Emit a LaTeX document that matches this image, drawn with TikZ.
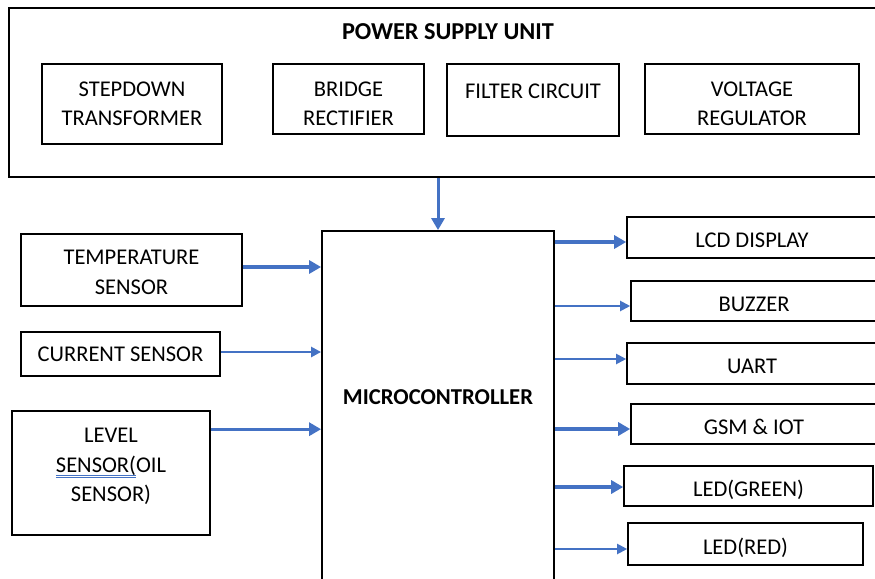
\documentclass[tikz,border=0pt]{standalone}
\usepackage{fontspec}
\setmainfont{Carlito}
\usetikzlibrary{arrows,arrows.meta}
\definecolor{linkblue}{HTML}{4472C4}
\newlength\gramwd
\newcommand\gramline[1]{\settowidth\gramwd{#1}%
  \rlap{\textcolor{linkblue}{\rule[-3pt]{\gramwd}{0.7pt}}}%
  \rlap{\textcolor{linkblue}{\rule[-5pt]{\gramwd}{0.7pt}}}#1}

\begin{document}
\begin{tikzpicture}[x=1pt,y=-1pt,
unit/.style={draw, line width=1.6pt, inner sep=0pt, align=center, font=\fontsize{22.5}{29.5}\selectfont},
outunit/.style={unit, text height=20.5pt, text depth=0pt},
frame/.style={draw, line width=2.2pt, inner sep=0pt},
heading/.style={font=\fontsize{24.3}{28}\selectfont\bfseries},
arrow/.style={-{Triangle[length=12pt,width=13pt]}, color=linkblue, line width=3.4pt},
thinarrow/.style={-{Triangle[length=10pt,width=10pt]}, color=linkblue, line width=2pt} ]

\useasboundingbox (0,0) rectangle (875,578);
\clip (0,0) rectangle (875,578);

% power supply
\node[frame, minimum width=878pt, minimum height=169pt] (psu) at (448,92.5) {};
\node[heading] (psutitle) at (448,32) {POWER SUPPLY UNIT};

\node[unit, minimum width=180pt, minimum height=80pt] (step) at (132,104) {STEPDOWN\\TRANSFORMER};
\node[unit, minimum width=151pt, minimum height=70pt, text height=54pt] (bridge) at (348.5,99) {BRIDGE\\RECTIFIER};
\node[unit, minimum width=172pt, minimum height=72pt, text depth=17pt] (filter) at (533,100) {FILTER CIRCUIT};
\node[unit, minimum width=214pt, minimum height=70pt, text height=54pt] (volt) at (752,99) {VOLTAGE\\REGULATOR};

% controller
\node[frame, line width=1.8pt, minimum width=232pt, minimum height=380pt] (mcu) at (438,421) {};
\node[heading, font=\fontsize{22.7}{26}\selectfont\bfseries] (mcuname) at (438,397) {MICROCONTROLLER};

% inputs
\node[unit, minimum width=221pt, minimum height=72pt, text height=49pt] (temp) at (131.5,270) {TEMPERATURE\\SENSOR};
\node[unit, minimum width=199pt, minimum height=44pt] (curr) at (120.5,354) {CURRENT SENSOR};
\node[unit, minimum width=198pt, minimum height=124pt, text depth=16pt] (level) at (111,473) {LEVEL\\\gramline{SENSOR(}OIL\\SENSOR)};

% outputs
\node[outunit, minimum width=250pt, minimum height=41pt] (lcd) at (752,237.5) {LCD DISPLAY};
\node[outunit, minimum width=246pt, minimum height=40pt] (buzzer) at (754,301) {BUZZER};
\node[outunit, minimum width=250pt, minimum height=41pt] (uart) at (752,363.5) {UART};
\node[outunit, minimum width=246pt, minimum height=40pt] (gsm) at (754,424) {GSM \& IOT};
\node[outunit, minimum width=249pt, minimum height=40pt] (green) at (748.5,486) {LED(GREEN)};
\node[outunit, minimum width=235pt, minimum height=42pt] (red) at (745.5,544) {LED(RED)};

\draw[arrow, line width=3pt] (psu.south -| mcu.north) -- (mcu.north);

\coordinate (tempout) at ([yshift=3pt]temp.east);
\coordinate (currout) at ([yshift=2pt]curr.east);
\coordinate (levelout) at ([yshift=-19pt]level.north east);
\draw[arrow] (tempout) -- (tempout -| mcu.west);
\draw[thinarrow, line width=2.4pt] (currout) -- (currout -| mcu.west);
\draw[arrow] (levelout) -- (levelout -| mcu.west);

\foreach \outbox/\dy/\kind in {lcd/-4.5/arrow, buzzer/-5/thinarrow, uart/4.5/thinarrow,
  gsm/-5/arrow, green/-1/arrow, red/-5/thinarrow}{
  \coordinate (outin) at ([yshift=\dy pt]\outbox.west);
  \draw[\kind] (mcu.east |- outin) -- (outin);
}

\end{tikzpicture}
\end{document}
